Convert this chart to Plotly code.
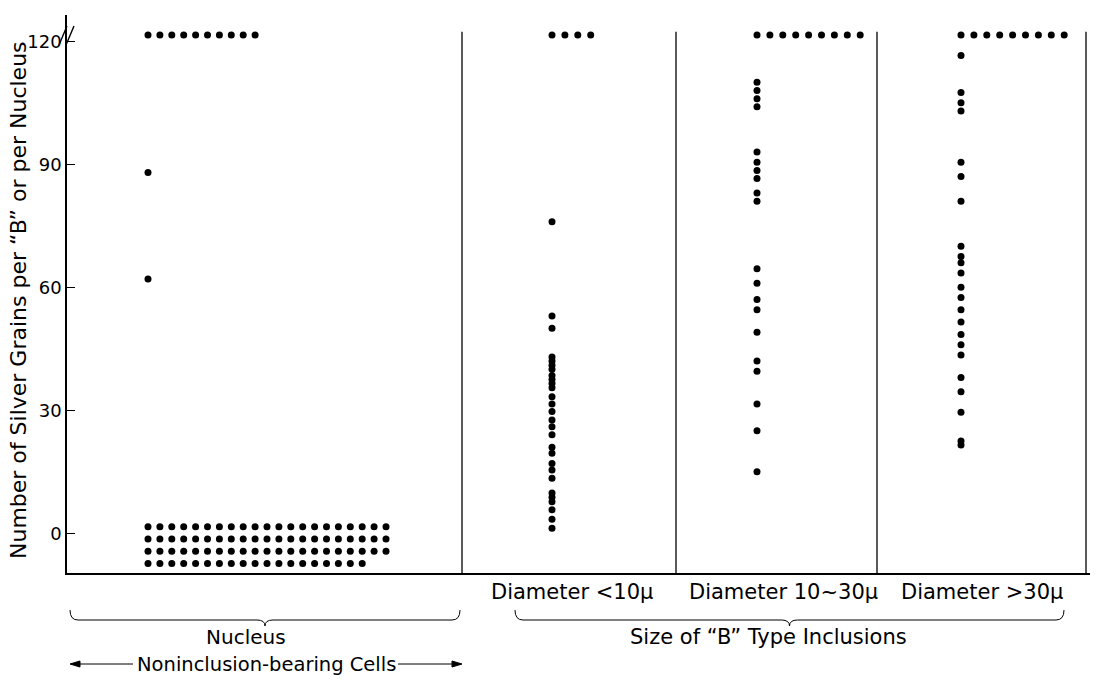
import plotly.graph_objects as go

# ---------------- data ----------------
group_names = ["Nucleus", "Diameter <10μ", "Diameter 10~30μ", "Diameter >30μ"]

# counts of cells with more than 120 grains (drawn as a row above the break)
over120_counts = [10, 4, 9, 9]

# Nucleus of noninclusion-bearing cells
nucleus_values = [88, 62]
nucleus_zero_count = 82          # cells with zero grains (stacked rows)

# "B" type inclusions
small_values = [76, 53, 50, 43, 42, 41, 40, 38.5, 37.5, 36.5, 35.5, 33.3, 31.5,
                29.7, 27.6, 26, 24, 21, 19.5, 17, 15.4, 13.4, 9.8, 8.8, 7.7,
                5.7, 3.4, 1.2]
medium_values = [110, 108, 106, 104, 93, 90.5, 88.5, 86.5, 83, 81, 64.5, 61, 57,
                 54.5, 49, 42, 39.5, 31.5, 25, 15]
large_values = [116.5, 107.5, 105, 103, 90.5, 87, 81, 70, 67.5, 66, 63.5, 60,
                57.5, 54.5, 51.5, 48.5, 46, 43.5, 38, 34.5, 29.5, 22.5, 21.5]

tick_values = [0, 30, 60, 90, 120]
tick_labels = ["0", "30", "60", "90", "120"]

# ---------------- layout helpers (reference pixel coordinates) ----------------
W, H = 1097, 680
PL, PR, PT, PB = 67, 1090, 15, 573       # plot area in pixels
XR = [0, PR - PL]
YR = [-9.7, 126.4]

def xd(px):      # pixel -> x data
    return px - PL

def xp(px):      # pixel -> paper
    return (px - PL) / (PR - PL)

def yp(py):      # pixel -> paper
    return (PB - py) / (PB - PT)

OVER_Y = 121.5
FONT = "DejaVu Sans, sans-serif"

xs, ys = [], []

# nucleus group
nuc_start, nuc_step = 148, 11.9
for i in range(over120_counts[0]):
    xs.append(xd(nuc_start + i * nuc_step)); ys.append(OVER_Y)
for v in nucleus_values:
    xs.append(xd(nuc_start)); ys.append(v)
row_len, row_top, row_step = 21, 1.6, 3.0
for k in range(nucleus_zero_count):
    r, c = divmod(k, row_len)
    xs.append(xd(nuc_start + c * nuc_step)); ys.append(row_top - r * row_step)

# inclusion groups
col_px = [552, 757, 961]
top_step = 12.9
for base, cnt, vals in zip(col_px, over120_counts[1:], [small_values, medium_values, large_values]):
    for i in range(cnt):
        xs.append(xd(base + i * top_step)); ys.append(OVER_Y)
    for v in vals:
        xs.append(xd(base)); ys.append(v)

fig = go.Figure()
fig.add_trace(go.Scatter(x=xs, y=ys, mode="markers",
                         marker=dict(color="black", size=7, line=dict(width=0)),
                         hoverinfo="skip", showlegend=False))

# separator lines
shapes = []
for sx in [462, 676, 877, 1086]:
    shapes.append(dict(type="line", xref="x", yref="y", x0=xd(sx), x1=xd(sx),
                       y0=YR[0], y1=122.3, line=dict(color="black", width=1.3)))

# axis break marks
for ox in [0, 7]:
    shapes.append(dict(type="line", xref="paper", yref="paper",
                       x0=xp(59 + ox), y0=yp(45), x1=xp(67 + ox), y1=yp(26),
                       line=dict(color="black", width=1.4)))

def brace(x0, x1, ytop=610, yline=620, ytip=626):
    xm = (x0 + x1) / 2
    pts = (f"M {xp(x0)},{yp(ytop)} Q {xp(x0)},{yp(yline)} {xp(x0+8)},{yp(yline)} "
           f"L {xp(xm-8)},{yp(yline)} Q {xp(xm)},{yp(yline)} {xp(xm)},{yp(ytip)} "
           f"Q {xp(xm)},{yp(yline)} {xp(xm+8)},{yp(yline)} "
           f"L {xp(x1-8)},{yp(yline)} Q {xp(x1)},{yp(yline)} {xp(x1)},{yp(ytop)}")
    return dict(type="path", xref="paper", yref="paper", path=pts,
                line=dict(color="black", width=1))

shapes.append(brace(70, 460))
shapes.append(brace(515, 1064))

# arrows for Noninclusion-bearing Cells
AY = 664
shapes.append(dict(type="line", xref="paper", yref="paper", x0=xp(72), x1=xp(133),
                   y0=yp(AY), y1=yp(AY), line=dict(color="black", width=1)))
shapes.append(dict(type="line", xref="paper", yref="paper", x0=xp(398), x1=xp(458),
                   y0=yp(AY), y1=yp(AY), line=dict(color="black", width=1)))
shapes.append(dict(type="path", xref="paper", yref="paper",
                   path=f"M {xp(70)},{yp(AY)} L {xp(80)},{yp(AY-3)} L {xp(80)},{yp(AY+3)} Z",
                   fillcolor="black", line=dict(color="black", width=1)))
shapes.append(dict(type="path", xref="paper", yref="paper",
                   path=f"M {xp(462)},{yp(AY)} L {xp(452)},{yp(AY-3)} L {xp(452)},{yp(AY+3)} Z",
                   fillcolor="black", line=dict(color="black", width=1)))

ann = []
def label(text, cx, cy, size=21, angle=0):
    ann.append(dict(text=text, x=xp(cx), y=yp(cy), xref="paper", yref="paper",
                    showarrow=False, textangle=angle,
                    font=dict(family=FONT, size=size, color="black"),
                    xanchor="center", yanchor="middle"))

label(group_names[1], 572, 592)
label(group_names[2], 783, 592)
label(group_names[3], 982, 592)
label(group_names[0], 246, 637, size=20)
label("Size of “B” Type Inclusions", 768, 637)
label("Noninclusion-bearing Cells", 266, AY, size=19.5)
label("Number of Silver Grains per “B” or per Nucleus", 18, 300, size=22, angle=-90)

fig.update_layout(
    width=W, height=H,
    margin=dict(l=PL, r=W - PR, t=PT, b=H - PB),
    paper_bgcolor="white", plot_bgcolor="white",
    shapes=shapes, annotations=ann,
    xaxis=dict(range=XR, showgrid=False, zeroline=False, showticklabels=False,
               ticks="", showline=True, linecolor="black", linewidth=1.5,
               fixedrange=True),
    yaxis=dict(range=YR, showgrid=False, zeroline=False, tickvals=tick_values,
               ticktext=tick_labels, ticks="inside", ticklen=8, tickwidth=1.2,
               tickcolor="black", showline=True, linecolor="black", linewidth=1.5,
               tickfont=dict(family=FONT, size=18, color="black"),
               fixedrange=True),
)

fig.write_html("out.html", config={"displayModeBar": False},
               post_script="document.body.style.margin='0px';document.body.style.overflow='hidden';")
